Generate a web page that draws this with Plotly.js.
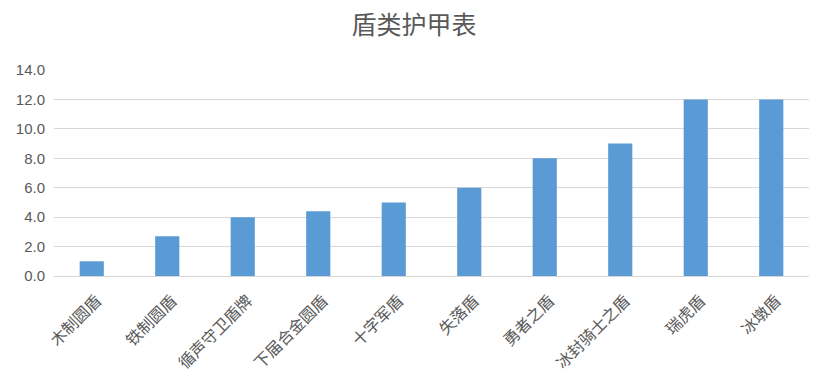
<!DOCTYPE html>
<html>
<head>
<meta charset="utf-8">
<script src="https://cdn.plot.ly/plotly-3.0.1.min.js"></script>
<style>html,body{margin:0;padding:0;background:#fff;}#chart{width:828px;height:389px;}</style>
</head>
<body>
<div id="chart"></div>
<script>
const categories = ["木制圆盾","铁制圆盾","循声守卫盾牌","下届合金圆盾","十字军盾","失落盾","勇者之盾","冰封骑士之盾","瑞虎盾","冰墩盾"];
const armorValues = [1.0, 2.7, 4.0, 4.4, 5.0, 6.0, 8.0, 9.0, 12.0, 12.0];
const yTicks = [0, 2, 4, 6, 8, 10, 12, 14];

const trace = {
  type: 'bar',
  x: categories,
  y: armorValues,
  marker: {color: '#5b9bd5'},
  hoverinfo: 'x+y'
};

const layout = {
  width: 828,
  height: 389,
  margin: {l: 54, r: 19, t: 70, b: 113},
  paper_bgcolor: '#ffffff',
  plot_bgcolor: '#ffffff',
  bargap: 0.68,
  showlegend: false,
  title: {
    text: '盾类护甲表',
    font: {family: '"Noto Sans CJK SC", sans-serif', size: 25, color: '#595959'},
    x: 0.5, xanchor: 'center', y: 0.935, yanchor: 'middle'
  },
  xaxis: {
    type: 'category',
    tickangle: -45,
    tickfont: {family: '"Noto Sans CJK SC", sans-serif', size: 16, color: '#595959'},
    ticklabelshift: 5,
    ticklabelstandoff: 8,
    showgrid: false,
    showline: true,
    linecolor: '#d9d9d9',
    linewidth: 1,
    ticks: '',
    zeroline: false
  },
  yaxis: {
    range: [0, 14],
    tickvals: yTicks,
    tickformat: '.1f',
    tickfont: {family: '"Liberation Sans", Arial, sans-serif', size: 15, color: '#595959'},
    ticklabelstandoff: 8,
    showgrid: true,
    gridcolor: '#d9d9d9',
    gridwidth: 1,
    zeroline: false,
    showline: false,
    ticks: '',
    ticklen: 0,
    fixedrange: true
  }
};

Plotly.newPlot('chart', [trace], layout, {displayModeBar: false, staticPlot: true});
</script>
</body>
</html>
